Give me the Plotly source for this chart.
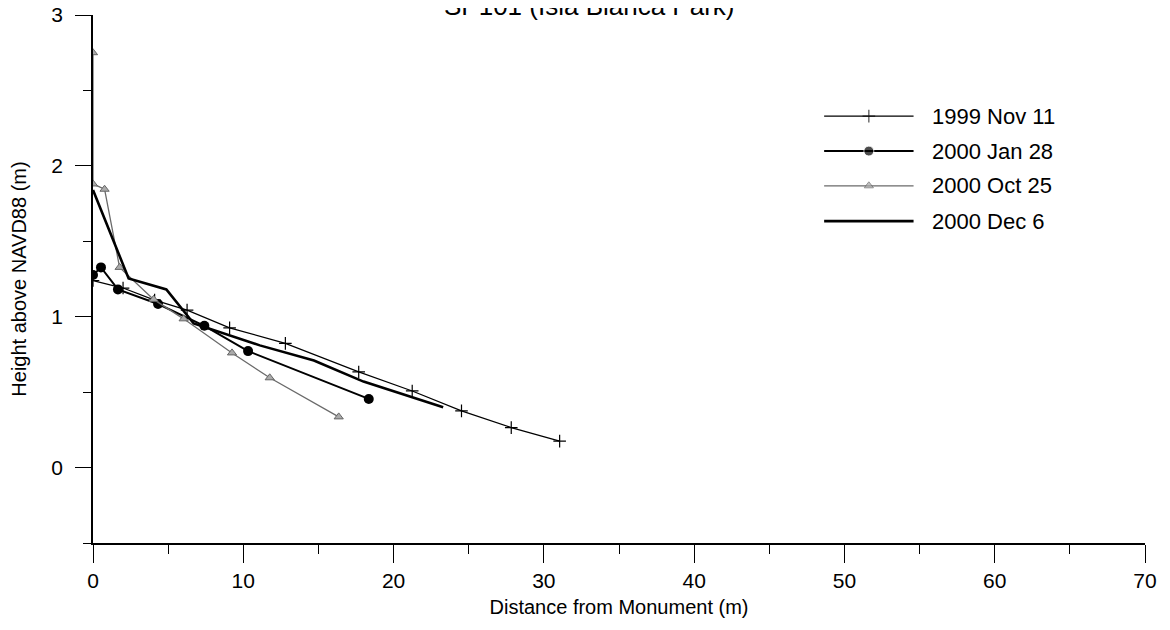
import plotly.graph_objects as go

# ---- data ----
names = ["1999 Nov 11", "2000 Jan 28", "2000 Oct 25", "2000 Dec 6"]

x_1999 = [0.0, 2.0, 4.1, 6.26, 9.09, 12.80, 17.68, 21.24, 24.52, 27.83, 31.05]
y_1999 = [1.24, 1.19, 1.11, 1.044, 0.926, 0.823, 0.634, 0.508, 0.376, 0.265, 0.175]

x_jan = [0.0, 0.53, 1.66, 4.33, 7.41, 10.32, 18.35]
y_jan = [1.276, 1.327, 1.181, 1.084, 0.94, 0.772, 0.455]

x_oct = [0.0, 0.0, 0.77, 1.77, 4.03, 6.03, 9.25, 11.76, 16.35]
y_oct = [2.75, 1.88, 1.845, 1.327, 1.115, 0.986, 0.76, 0.595, 0.336]

x_dec = [0.0, 2.37, 4.88, 6.7, 11.1, 14.7, 18.0, 23.3]
y_dec = [1.84, 1.254, 1.181, 0.955, 0.81, 0.71, 0.57, 0.40]

x_ticks = [0, 10, 20, 30, 40, 50, 60, 70]
y_ticks = [0, 1, 2, 3]

FONT = "Arial, Liberation Sans, sans-serif"

styles = [
    dict(line=dict(color="black", width=1.2),
         marker=dict(symbol="cross-thin", size=9, line=dict(color="black", width=1.2))),
    dict(line=dict(color="black", width=2),
         marker=dict(symbol="circle", size=10, color="black")),
    dict(line=dict(color="#6a6a6a", width=1.3),
         marker=dict(symbol="triangle-up", size=8, color="#aaaaaa", line=dict(color="#666666", width=1))),
    dict(line=dict(color="black", width=2.6), marker=None),
]
series = [(x_1999, y_1999), (x_jan, y_jan), (x_oct, y_oct), (x_dec, y_dec)]

fig = go.Figure()
for (xs, ys), nm, st in zip(series, names, styles):
    kw = dict(x=xs, y=ys, name=nm, showlegend=False, line=st["line"],
              mode="lines+markers" if st["marker"] else "lines")
    if st["marker"]:
        kw["marker"] = st["marker"]
    fig.add_trace(go.Scatter(**kw))

# ---- custom legend (long line samples, like the reference) ----
leg_x0, leg_x1 = 0.695, 0.780
leg_rows = [0.8085, 0.7423, 0.6765, 0.6096]
for nm, st, ry in zip(names, styles, leg_rows):
    xm = (leg_x0 + leg_x1) / 2
    kw = dict(x=[leg_x0, xm, leg_x1], y=[ry, ry, ry], xaxis="x2", yaxis="y2",
              showlegend=False, hoverinfo="skip", line=st["line"])
    if st["marker"]:
        m = dict(st["marker"])
        m["size"] = [0, m["size"], 0]
        kw["marker"] = m
        kw["mode"] = "lines+markers"
    else:
        kw["mode"] = "lines"
    fig.add_trace(go.Scatter(**kw))
    fig.add_annotation(x=leg_x1 + 0.016, y=ry, xref="x2", yref="y2", text=nm,
                       showarrow=False, xanchor="left", yanchor="middle",
                       font=dict(family=FONT, size=22, color="black"))

# chart title (sits at the very top edge, partly clipped as in the reference)
fig.add_annotation(text="SP101 (Isla Blanca Park)", xref="paper", yref="paper",
                   x=0.4717, y=1, xanchor="center", yanchor="bottom", yshift=-8,
                   showarrow=False, font=dict(family=FONT, size=26, color="black"))

fig.update_layout(
    width=1170, height=630,
    paper_bgcolor="white", plot_bgcolor="white",
    margin=dict(l=85, r=33, t=7, b=95),
    font=dict(family=FONT, size=20, color="black"),
    xaxis=dict(range=[0, 70], tickvals=x_ticks, ticktext=[str(v) for v in x_ticks],
               automargin=False, ticklabeloverflow="allow",
               showgrid=False, zeroline=False, showline=True, linecolor="black", linewidth=1.5,
               ticks="outside", ticklen=18, tickwidth=1.3, tickcolor="black",
               minor=dict(dtick=5, ticks="outside", ticklen=9, tickwidth=1.3, tickcolor="black"),
               tickfont=dict(size=21),
               title=dict(text="Distance from Monument (m)", standoff=9, font=dict(size=20))),
    yaxis=dict(range=[-0.5, 3], tickvals=y_ticks, ticktext=[str(v) for v in y_ticks],
               automargin=False, ticklabeloverflow="allow",
               showgrid=False, zeroline=False, showline=True, linecolor="black", linewidth=1.5,
               ticks="outside", ticklen=16, tickwidth=1.3, tickcolor="black",
               minor=dict(dtick=0.5, ticks="outside", ticklen=8, tickwidth=1.3, tickcolor="black"),
               tickfont=dict(size=21), ticklabelstandoff=8,
               title=dict(text="Height above NAVD88 (m)", standoff=20, font=dict(size=20))),
    xaxis2=dict(range=[0, 1], overlaying="x", visible=False, fixedrange=True),
    yaxis2=dict(range=[0, 1], overlaying="y", visible=False, fixedrange=True),
)

fig.write_html("out.html")
